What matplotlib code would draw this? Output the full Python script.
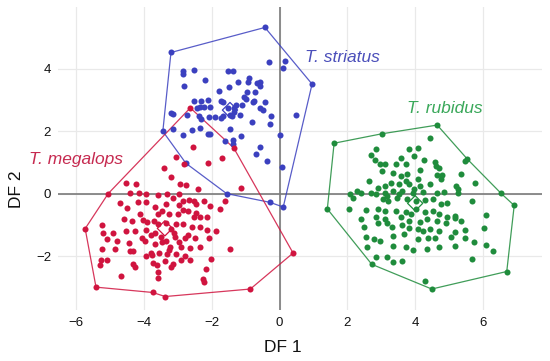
import numpy as np
import matplotlib
matplotlib.use("Agg")
import matplotlib.pyplot as plt

plt.rcParams['font.family'] = ['Liberation Sans', 'DejaVu Sans']

# colores
c_blue = '#3b40bf'
c_red = '#d0143f'
c_green = '#1f8c3c'

# T. striatus - hull vertices (in order) and interior points
striatus_hull_x = [-3.20, -0.43, 0.96, 0.11, -0.28, -1.56, -2.76, -3.44]
striatus_hull_y = [4.52, 5.32, 3.51, -0.42, -0.27, 0.01, 0.98, 2.00]
striatus_x = [-0.31, 0.15, 0.11, -2.86, -2.86, -2.53, -2.19, -1.51, -1.38, -2.82,
              -0.91, -0.94, -0.58, -0.67, -0.58, -1.22, -1.79, -1.49, -1.73, -1.67,
              -2.12, -2.31, -2.53, -0.97, -0.74, -0.79, -0.42, -0.99, -1.12, -1.28,
              -1.35, -1.51, -1.34, -1.46, -0.58, -0.50, -0.26, -0.29, 0.49, -3.20,
              -3.13, -2.74, -2.43, -2.35, -2.23, -2.04, -2.38, -2.31, -2.07, -1.90,
              -1.66, -1.41, -1.16, -0.81, -1.46, -1.73, -2.58, -2.33, -2.12, -2.05,
              -3.15, -2.85, -1.62, -1.36, -1.14, -1.38, 0.02, -0.57, -0.69, -0.38,
              0.06, -0.72, -1.05]
striatus_y = [4.20, 4.26, 4.02, 3.93, 3.83, 3.97, 3.63, 3.93, 3.93, 3.44,
              3.70, 3.59, 3.59, 3.56, 3.44, 3.59, 3.28, 3.43, 2.98, 2.93,
              2.99, 2.98, 2.96, 3.26, 2.96, 2.94, 2.94, 3.02, 2.84, 2.85,
              2.75, 2.75, 2.61, 2.53, 2.75, 2.69, 2.48, 2.22, 2.53, 2.57,
              2.56, 2.51, 2.75, 2.77, 2.77, 2.79, 2.48, 2.38, 2.47, 2.46,
              2.48, 2.48, 2.53, 2.30, 2.07, 2.43, 2.03, 2.10, 1.92, 1.92,
              2.08, 1.88, 1.69, 1.72, 1.85, 1.58, 1.88, 1.50, 1.26, 1.04,
              0.86, 3.27, 3.10]

# T. megalops
megalops_hull_x = [-2.63, -1.35, 0.40, -0.86, -3.37, -3.74, -5.41, -5.73, -5.05]
megalops_hull_y = [2.75, 1.47, -1.89, -3.04, -3.28, -3.15, -2.98, -1.11, 0.01]
megalops_x = [-2.55, -3.05, -2.83, -2.10, -1.69, -3.41, -3.20, -2.92, -2.76, -2.40,
              -4.53, -4.24, -4.42, -4.15, -3.93, -3.59, -3.33, -3.15, -2.96, -2.84,
              -2.66, -2.53, -2.47, -2.23, -2.04, -1.76, -1.61, -1.15, -4.69, -4.50,
              -4.17, -3.95, -3.66, -3.46, -3.27, -3.00, -2.85, -2.51, -2.33, -2.15,
              -4.58, -4.36, -4.03, -3.91, -3.69, -3.58, -3.35, -3.21, -3.05, -2.84,
              -2.58, -2.35, -2.14, -1.86, -5.23, -5.20, -4.91, -5.10, -4.53, -4.25,
              -3.95, -3.66, -3.48, -3.07, -2.78, -2.48, -2.07, -4.79, -4.45, -3.96,
              -3.66, -3.35, -3.23, -2.89, -2.64, -2.35, -5.22, -4.84, -4.42, -4.31,
              -3.79, -3.54, -3.32, -3.05, -2.80, -1.45, -5.27, -5.10, -5.30, -4.31,
              -4.27, -3.93, -3.74, -3.60, -3.37, -3.19, -3.14, -2.90, -2.64, -2.02,
              -2.16, -3.58, -3.58, -2.26, -2.23, -4.68, -3.35, -2.96, -2.69, -3.59,
              -3.80, -3.10, -2.70, -4.05, -3.45, -2.95, -3.75, -3.25, -2.45, -4.10]
megalops_y = [1.51, 1.19, 0.97, 1.00, 1.16, 0.84, 0.55, 0.31, 0.29, 0.16,
              0.34, 0.32, 0.03, 0.03, 0.01, -0.04, 0.01, -0.12, -0.01, -0.22,
              -0.20, -0.22, -0.33, -0.22, -0.38, -0.49, -0.22, 0.18, -0.28, -0.46,
              -0.27, -0.25, -0.43, -0.56, -0.63, -0.65, -0.50, -0.73, -0.73, -0.75,
              -0.81, -0.86, -0.84, -0.91, -0.85, -0.96, -0.94, -1.12, -0.96, -0.96,
              -1.07, -1.05, -1.16, -1.20, -0.99, -1.26, -1.26, -1.44, -1.18, -1.20,
              -1.16, -1.26, -1.39, -1.39, -1.41, -1.41, -1.41, -1.52, -1.58, -1.50,
              -1.60, -1.52, -1.69, -1.71, -1.73, -1.71, -1.76, -1.76, -1.83, -1.83,
              -1.90, -1.88, -1.92, -1.92, -2.00, -1.76, -2.11, -2.11, -2.26, -2.24,
              -2.34, -2.00, -2.22, -2.26, -2.13, -2.34, -2.24, -2.11, -2.11, -2.08,
              -2.40, -2.50, -2.69, -2.71, -2.82, -2.62, -0.31, -0.35, -0.54, -0.65,
              -1.30, -1.25, -1.30, -1.40, -1.55, -1.55, -1.95, -1.80, -0.60, -0.65]

# T. rubidus
rubidus_hull_x = [1.61, 3.01, 4.65, 5.54, 6.53, 6.92, 6.70, 4.49, 2.72, 1.41]
rubidus_hull_y = [1.62, 1.92, 2.20, 1.11, 0.02, -0.37, -2.48, -3.04, -2.25, -0.48]
rubidus_x = [2.85, 3.83, 4.08, 2.70, 3.57, 3.98, 4.26, 4.57, 5.48, 4.44,
             2.82, 2.95, 3.11, 3.42, 3.72, 4.62, 4.70, 5.36,
             3.01, 3.36, 3.57, 3.77, 4.13, 4.80, 4.63, 5.77,
             2.65, 3.29, 3.52, 3.72, 3.83, 4.08, 4.13, 4.44, 4.77, 5.21, 5.26, 2.90, 3.11,
             2.08, 2.29, 2.39, 2.70, 2.85, 3.11, 3.16, 3.36, 3.52, 3.62, 3.93, 3.98, 4.24,
             4.65, 4.85, 5.26, 2.18, 3.06, 3.21, 3.47, 3.77, 4.03, 4.29, 4.54, 4.75, 4.95,
             5.67, 2.06, 2.54, 2.90, 3.11, 3.42, 3.72, 3.88, 4.03, 4.29, 4.54, 4.70, 4.95,
             5.16, 6.08, 2.39, 2.85, 3.11, 3.57, 3.83, 4.13, 4.34, 4.65, 4.90, 5.16, 5.36,
             2.49, 2.90, 3.16, 3.31, 3.62, 3.83, 4.08, 4.24, 4.44, 4.70, 5.16, 5.47, 6.03,
             2.54, 2.80, 3.36, 3.67, 4.08, 4.39, 4.59, 5.06, 5.47, 5.74, 2.59, 2.95, 3.36,
             3.72, 3.93, 4.34, 4.70, 5.16, 6.08, 6.29, 2.85, 3.16, 3.36, 3.62, 5.67, 4.29]
rubidus_y = [1.42, 1.42, 1.47, 1.24, 1.16, 1.21, 1.07, 1.02, 1.05, 1.79,
             1.07, 0.94, 0.94, 0.97, 0.94, 0.89, 0.84, 0.63,
             0.73, 0.68, 0.57, 0.65, 0.78, 0.60, 0.60, 0.36,
             0.41, 0.36, 0.33, 0.41, 0.31, 0.47, 0.25, 0.31, 0.47, 0.25, 0.15, 0.20, 0.25,
             0.01, 0.10, 0.03, 0.03, 0.01, 0.03, -0.06, 0.10, -0.01, 0.10, 0.04, 0.15, 0.07,
             0.04, 0.07, 0.04, -0.14, -0.17, -0.22, -0.12, -0.17, -0.22, -0.20, -0.17, -0.33, -0.28,
             -0.22, -0.49, -0.52, -0.49, -0.54, -0.54, -0.59, -0.65, -0.49, -0.59, -0.54, -0.65, -0.75,
             -0.70, -0.67, -0.81, -0.75, -0.81, -0.75, -0.86, -0.91, -0.81, -0.86, -0.94, -0.77, -0.86,
             -1.07, -0.94, -0.94, -1.07, -0.99, -1.09, -1.12, -1.18, -1.12, -1.18, -1.23, -1.16, -1.09,
             -1.39, -1.44, -1.34, -1.28, -1.44, -1.41, -1.41, -1.39, -1.41, -1.55, -1.71, -1.52, -1.65,
             -1.71, -1.79, -1.76, -1.69, -1.65, -1.62, -1.81, -2.03, -2.03, -2.18, -2.13, -2.08, -2.77]

# centroides
cent_x = [-1.46, -3.38, 4.00]
cent_y = [2.68, -1.10, -0.30]
cent_colors = [c_blue, c_red, c_green]

groups = [
    ('T. striatus', striatus_x, striatus_y, striatus_hull_x, striatus_hull_y, c_blue, '#4b4fba', 0.75, 4.36),
    ('T. megalops', megalops_x, megalops_y, megalops_hull_x, megalops_hull_y, c_red, '#c62a50', -7.40, 1.10),
    ('T. rubidus', rubidus_x, rubidus_y, rubidus_hull_x, rubidus_hull_y, c_green, '#3aa85a', 3.77, 2.73),
]

fig = plt.figure(figsize=(5.5, 3.61), dpi=100)
ax = fig.add_axes([0.1055, 0.1413, 0.88, 0.839])

ax.set_xlim(-6.53, 7.74)
ax.set_ylim(-3.71, 5.97)
ax.set_xticks([-6, -4, -2, 0, 2, 4, 6])
ax.set_yticks([-2, 0, 2, 4])
ax.grid(True, color='#e9e9e9', lw=0.9)
ax.set_axisbelow(True)
for s in ax.spines.values():
    s.set_visible(False)
ax.tick_params(length=0, labelsize=9.5, pad=5, colors='#111111')
ax.axhline(0, color='#7a7a7a', lw=1.2, zorder=1)
ax.axvline(0, color='#7a7a7a', lw=1.2, zorder=1)

for name, gx, gy, hx, hy, col, tcol, lx, ly in groups:
    ax.scatter(gx, gy, s=19, color=col, lw=0, zorder=3)
    ax.plot(hx + hx[:1], hy + hy[:1], color=col, lw=0.9, alpha=0.85, zorder=2)
    ax.scatter(hx, hy, s=19, color=col, lw=0, zorder=3)
    ax.text(lx, ly, name, color=tcol, fontsize=12.5, style='italic',
            ha='left', va='center', clip_on=False)

for cx, cy, cc in zip(cent_x, cent_y, cent_colors):
    ax.scatter([cx], [cy], s=60, marker='D', facecolor='none', edgecolor=cc, lw=0.9, zorder=4)

ax.set_xlabel('DF 1', fontsize=12.5, color='#111111')
ax.set_ylabel('DF 2', fontsize=12.5, color='#111111')
ax.xaxis.set_label_coords(0.464, -0.1)
ax.yaxis.set_label_coords(-0.07, 0.40)

fig.savefig('out.png', dpi=100)
